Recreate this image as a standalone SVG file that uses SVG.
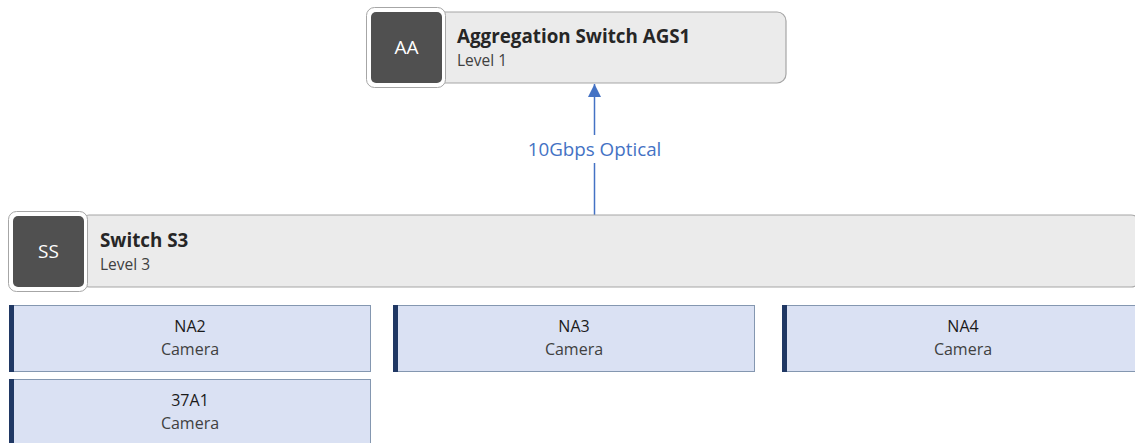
<svg xmlns="http://www.w3.org/2000/svg" width="1135" height="443" viewBox="0 0 1135 443">
<defs>
<style>
.frame{fill:#ffffff;stroke:#a6a6a6;stroke-width:1}
.sq{fill:#505050}
.main{fill:#ebebeb;stroke:#a6a6a6;stroke-width:1.2}
.ini{font-family:"Open Sans","Noto Sans",sans-serif;font-size:19px;fill:#ffffff;text-anchor:middle}
.ttl{font-family:"Open Sans","Noto Sans",sans-serif;font-size:18.8px;font-weight:bold;fill:#262626}
.sub{font-family:"Open Sans","Noto Sans",sans-serif;font-size:15.5px;fill:#404040}
.cam{fill:#dae1f3;stroke:#8497b0;stroke-width:1}
.bar{fill:#203864}
.cn{font-family:"Open Sans","Noto Sans",sans-serif;font-size:16px;fill:#1a1a1a;text-anchor:middle}
.ct{font-family:"Open Sans","Noto Sans",sans-serif;font-size:16px;fill:#404040;text-anchor:middle}
.lbl{font-family:"Open Sans","Noto Sans",sans-serif;font-size:18.8px;fill:#4472c4;text-anchor:middle}
</style>
<marker id="ah" markerWidth="13" markerHeight="13" refX="10" refY="5" orient="auto" markerUnits="userSpaceOnUse" viewBox="0 0 10 10">
<path d="M0,0 L10,5 L0,10 Z" fill="#4472c4"/>
</marker>
</defs>
<g id="connectors">
<line x1="594.5" y1="215" x2="594.5" y2="163" stroke="#4472c4" stroke-width="1.5"/>
<line x1="594.5" y1="135" x2="594.5" y2="84" stroke="#4472c4" stroke-width="1.5" marker-end="url(#ah)"/>
<text class="lbl" x="594.5" y="156">10Gbps Optical</text>
</g>
<g id="node-AGS1">
<rect class="main" x="436" y="12" width="350" height="71" rx="9"/>
<rect class="frame" x="366.5" y="7.5" width="79" height="80" rx="8"/>
<rect class="sq" x="371" y="12" width="71" height="71" rx="5"/>
<text class="ini" x="406.5" y="54">AA</text>
<text class="ttl" x="457" y="43">Aggregation Switch AGS1</text>
<text class="sub" x="457" y="66">Level 1</text>
</g>
<g id="node-S3">
<rect class="main" x="80" y="215" width="1060" height="72" rx="9"/>
<rect class="frame" x="8.5" y="211.5" width="79" height="80" rx="8"/>
<rect class="sq" x="13" y="216" width="71" height="71" rx="5"/>
<text class="ini" x="48.5" y="258">SS</text>
<text class="ttl" x="100" y="247">Switch S3</text>
<text class="sub" x="100" y="270">Level 3</text>
</g>
<g id="node-NA2">
<rect class="cam" x="9.5" y="305.5" width="361" height="66"/>
<rect class="bar" x="9" y="305" width="5" height="67"/>
<text class="cn" x="190" y="332">NA2</text>
<text class="ct" x="190" y="355">Camera</text>
</g>
<g id="node-NA3">
<rect class="cam" x="393.5" y="305.5" width="361" height="66"/>
<rect class="bar" x="393" y="305" width="5" height="67"/>
<text class="cn" x="574" y="332">NA3</text>
<text class="ct" x="574" y="355">Camera</text>
</g>
<g id="node-NA4">
<rect class="cam" x="782.5" y="305.5" width="361" height="66"/>
<rect class="bar" x="782" y="305" width="5" height="67"/>
<text class="cn" x="963" y="332">NA4</text>
<text class="ct" x="963" y="355">Camera</text>
</g>
<g id="node-37A1">
<rect class="cam" x="9.5" y="379.5" width="361" height="70"/>
<rect class="bar" x="9" y="379" width="5" height="70"/>
<text class="cn" x="190" y="406">37A1</text>
<text class="ct" x="190" y="429">Camera</text>
</g>
</svg>
